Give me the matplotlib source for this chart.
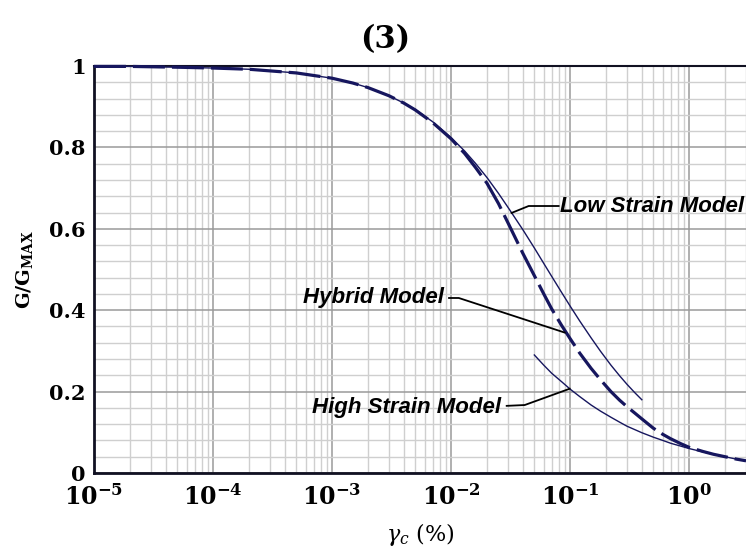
import matplotlib
matplotlib.use("Agg")
import matplotlib.pyplot as plt
import numpy as np
from matplotlib.ticker import LogLocator, FixedLocator, NullFormatter, FixedFormatter

# ---- data ----
strain_low = [1e-5, 2e-5, 5e-5, 1e-4, 2e-4, 5e-4, 1e-3, 1.5e-3, 2e-3, 3e-3, 4e-3, 5e-3,
              7e-3, 1e-2, 1.3e-2, 1.6e-2, 2e-2, 2.5e-2, 3e-2, 4e-2, 5e-2, 6e-2, 7e-2,
              8.5e-2, 0.1, 0.12, 0.15, 0.18, 0.22, 0.26, 0.3, 0.35, 0.4]
g_low = [0.999, 0.999, 0.997, 0.995, 0.992, 0.983, 0.970, 0.958, 0.947, 0.927, 0.909, 0.893,
         0.863, 0.824, 0.791, 0.761, 0.726, 0.687, 0.653, 0.598, 0.553, 0.515, 0.483,
         0.443, 0.410, 0.374, 0.332, 0.299, 0.265, 0.239, 0.218, 0.197, 0.180]

strain_hybrid = [1e-5, 2e-5, 5e-5, 1e-4, 2e-4, 5e-4, 1e-3, 1.5e-3, 2e-3, 3e-3, 4e-3, 5e-3,
                 7e-3, 1e-2, 1.3e-2, 1.6e-2, 2e-2, 2.5e-2, 3e-2, 4e-2, 5e-2, 6e-2, 7e-2,
                 8.5e-2, 0.1, 0.12, 0.15, 0.18, 0.22, 0.26, 0.3, 0.35, 0.4, 0.5, 0.6,
                 0.7, 0.85, 1.0, 1.3, 1.6, 2.0, 2.5, 3.0]
g_hybrid = [0.999, 0.999, 0.997, 0.995, 0.992, 0.983, 0.970, 0.958, 0.947, 0.927, 0.909, 0.892,
            0.861, 0.821, 0.785, 0.751, 0.712, 0.662, 0.615, 0.540, 0.485, 0.440, 0.403,
            0.362, 0.330, 0.295, 0.257, 0.229, 0.200, 0.179, 0.163, 0.147, 0.133, 0.110, 0.095,
            0.084, 0.072, 0.063, 0.053, 0.046, 0.040, 0.034, 0.030]

strain_high = [0.05, 0.06, 0.07, 0.085, 0.1, 0.12, 0.15, 0.18, 0.22, 0.26, 0.3, 0.4, 0.5,
               0.6, 0.7, 0.85, 1.0, 1.3, 1.6, 2.0, 2.5, 3.0]
g_high = [0.290, 0.265, 0.245, 0.224, 0.206, 0.188, 0.167, 0.152, 0.137, 0.125, 0.115, 0.099,
          0.088, 0.080, 0.073, 0.066, 0.060, 0.052, 0.046, 0.040, 0.034, 0.030]

x_ticks = [1e-5, 1e-4, 1e-3, 1e-2, 1e-1, 1e0]
x_ticklabels = [r'$\mathbf{10^{-5}}$', r'$\mathbf{10^{-4}}$', r'$\mathbf{10^{-3}}$',
                r'$\mathbf{10^{-2}}$', r'$\mathbf{10^{-1}}$', r'$\mathbf{10^{0}}$']
y_ticks = [0, 0.2, 0.4, 0.6, 0.8, 1.0]
y_ticklabels = ['0', '0.2', '0.4', '0.6', '0.8', '1']

title = '(3)'
labels = ['Low Strain Model', 'Hybrid Model', 'High Strain Model']

# ---- style ----
plt.rcParams['mathtext.fontset'] = 'custom'
plt.rcParams['mathtext.rm'] = 'DejaVu Serif:bold'
plt.rcParams['mathtext.bf'] = 'DejaVu Serif:bold'
plt.rcParams['mathtext.it'] = 'DejaVu Serif:italic'

navy = '#16165e'

fig = plt.figure(figsize=(7.46, 5.56), dpi=100)
ax = fig.add_axes([94/746, 1-473/556, 1-94/746, (473-66)/556])

ax.set_xscale('log')
ax.set_xlim(1e-5, 3.0)
ax.set_ylim(0, 1)

# grid
ax.xaxis.set_major_locator(FixedLocator(x_ticks))
ax.xaxis.set_major_formatter(FixedFormatter(x_ticklabels))
ax.xaxis.set_minor_locator(LogLocator(base=10, subs=np.arange(2, 10), numticks=100))
ax.xaxis.set_minor_formatter(NullFormatter())
ax.yaxis.set_major_locator(FixedLocator(y_ticks))
ax.yaxis.set_major_formatter(FixedFormatter(y_ticklabels))
ax.yaxis.set_minor_locator(FixedLocator(np.arange(0, 1.0001, 0.04)))
ax.grid(which='minor', color='#cfcfcf', lw=1.0)
ax.grid(which='major', color='#9a9a9a', lw=1.1)
ax.set_axisbelow(True)
ax.tick_params(which='both', length=0)
ax.tick_params(axis='x', pad=8)
ax.tick_params(axis='y', pad=6)
for lab in ax.get_xticklabels():
    lab.set_fontsize(17)
for lab in ax.get_yticklabels():
    lab.set_fontsize(15)
    lab.set_fontfamily('DejaVu Serif')
    lab.set_fontweight('bold')

for s in ['left', 'bottom']:
    ax.spines[s].set_linewidth(2.0)
    ax.spines[s].set_color('#111122')
ax.spines['top'].set_linewidth(1.5)
ax.spines['top'].set_color('#111122')
ax.spines['right'].set_visible(False)

# curves
ax.plot(strain_low, g_low, color=navy, lw=1.0, clip_on=False, zorder=3)
ax.plot(strain_hybrid, g_hybrid, color=navy, lw=2.3, dashes=(10, 2.2), clip_on=False, zorder=4)
ax.plot(strain_high, g_high, color=navy, lw=1.0, zorder=3)

# labels with leader lines
afont = dict(family='Liberation Sans', weight='bold', style='italic', size=16)
ax.text(0.082, 0.656, labels[0], ha='left', va='center', **afont)
ax.plot([0.0322, 0.0448, 0.080], [0.639, 0.656, 0.656], color='black', lw=1.3, zorder=5)

ax.text(0.0087, 0.432, labels[1], ha='right', va='center', **afont)
ax.plot([0.0096, 0.0116, 0.090], [0.430, 0.430, 0.345], color='black', lw=1.3, zorder=5)

ax.text(0.026, 0.162, labels[2], ha='right', va='center', **afont)
ax.plot([0.0293, 0.0415, 0.099], [0.165, 0.167, 0.207], color='black', lw=1.3, zorder=5)

ax.set_xlabel(r'$\gamma_{c}$ (%)', fontsize=16, family='DejaVu Serif', labelpad=8)
ax.set_ylabel(r'$\mathbf{G/G_{MAX}}$', fontsize=14, labelpad=10)

fig.text(385/746, 1 - 40/556, title, ha='center', va='center',
         family='DejaVu Serif', weight='bold', fontsize=22)

fig.savefig('out.png', dpi=100)
